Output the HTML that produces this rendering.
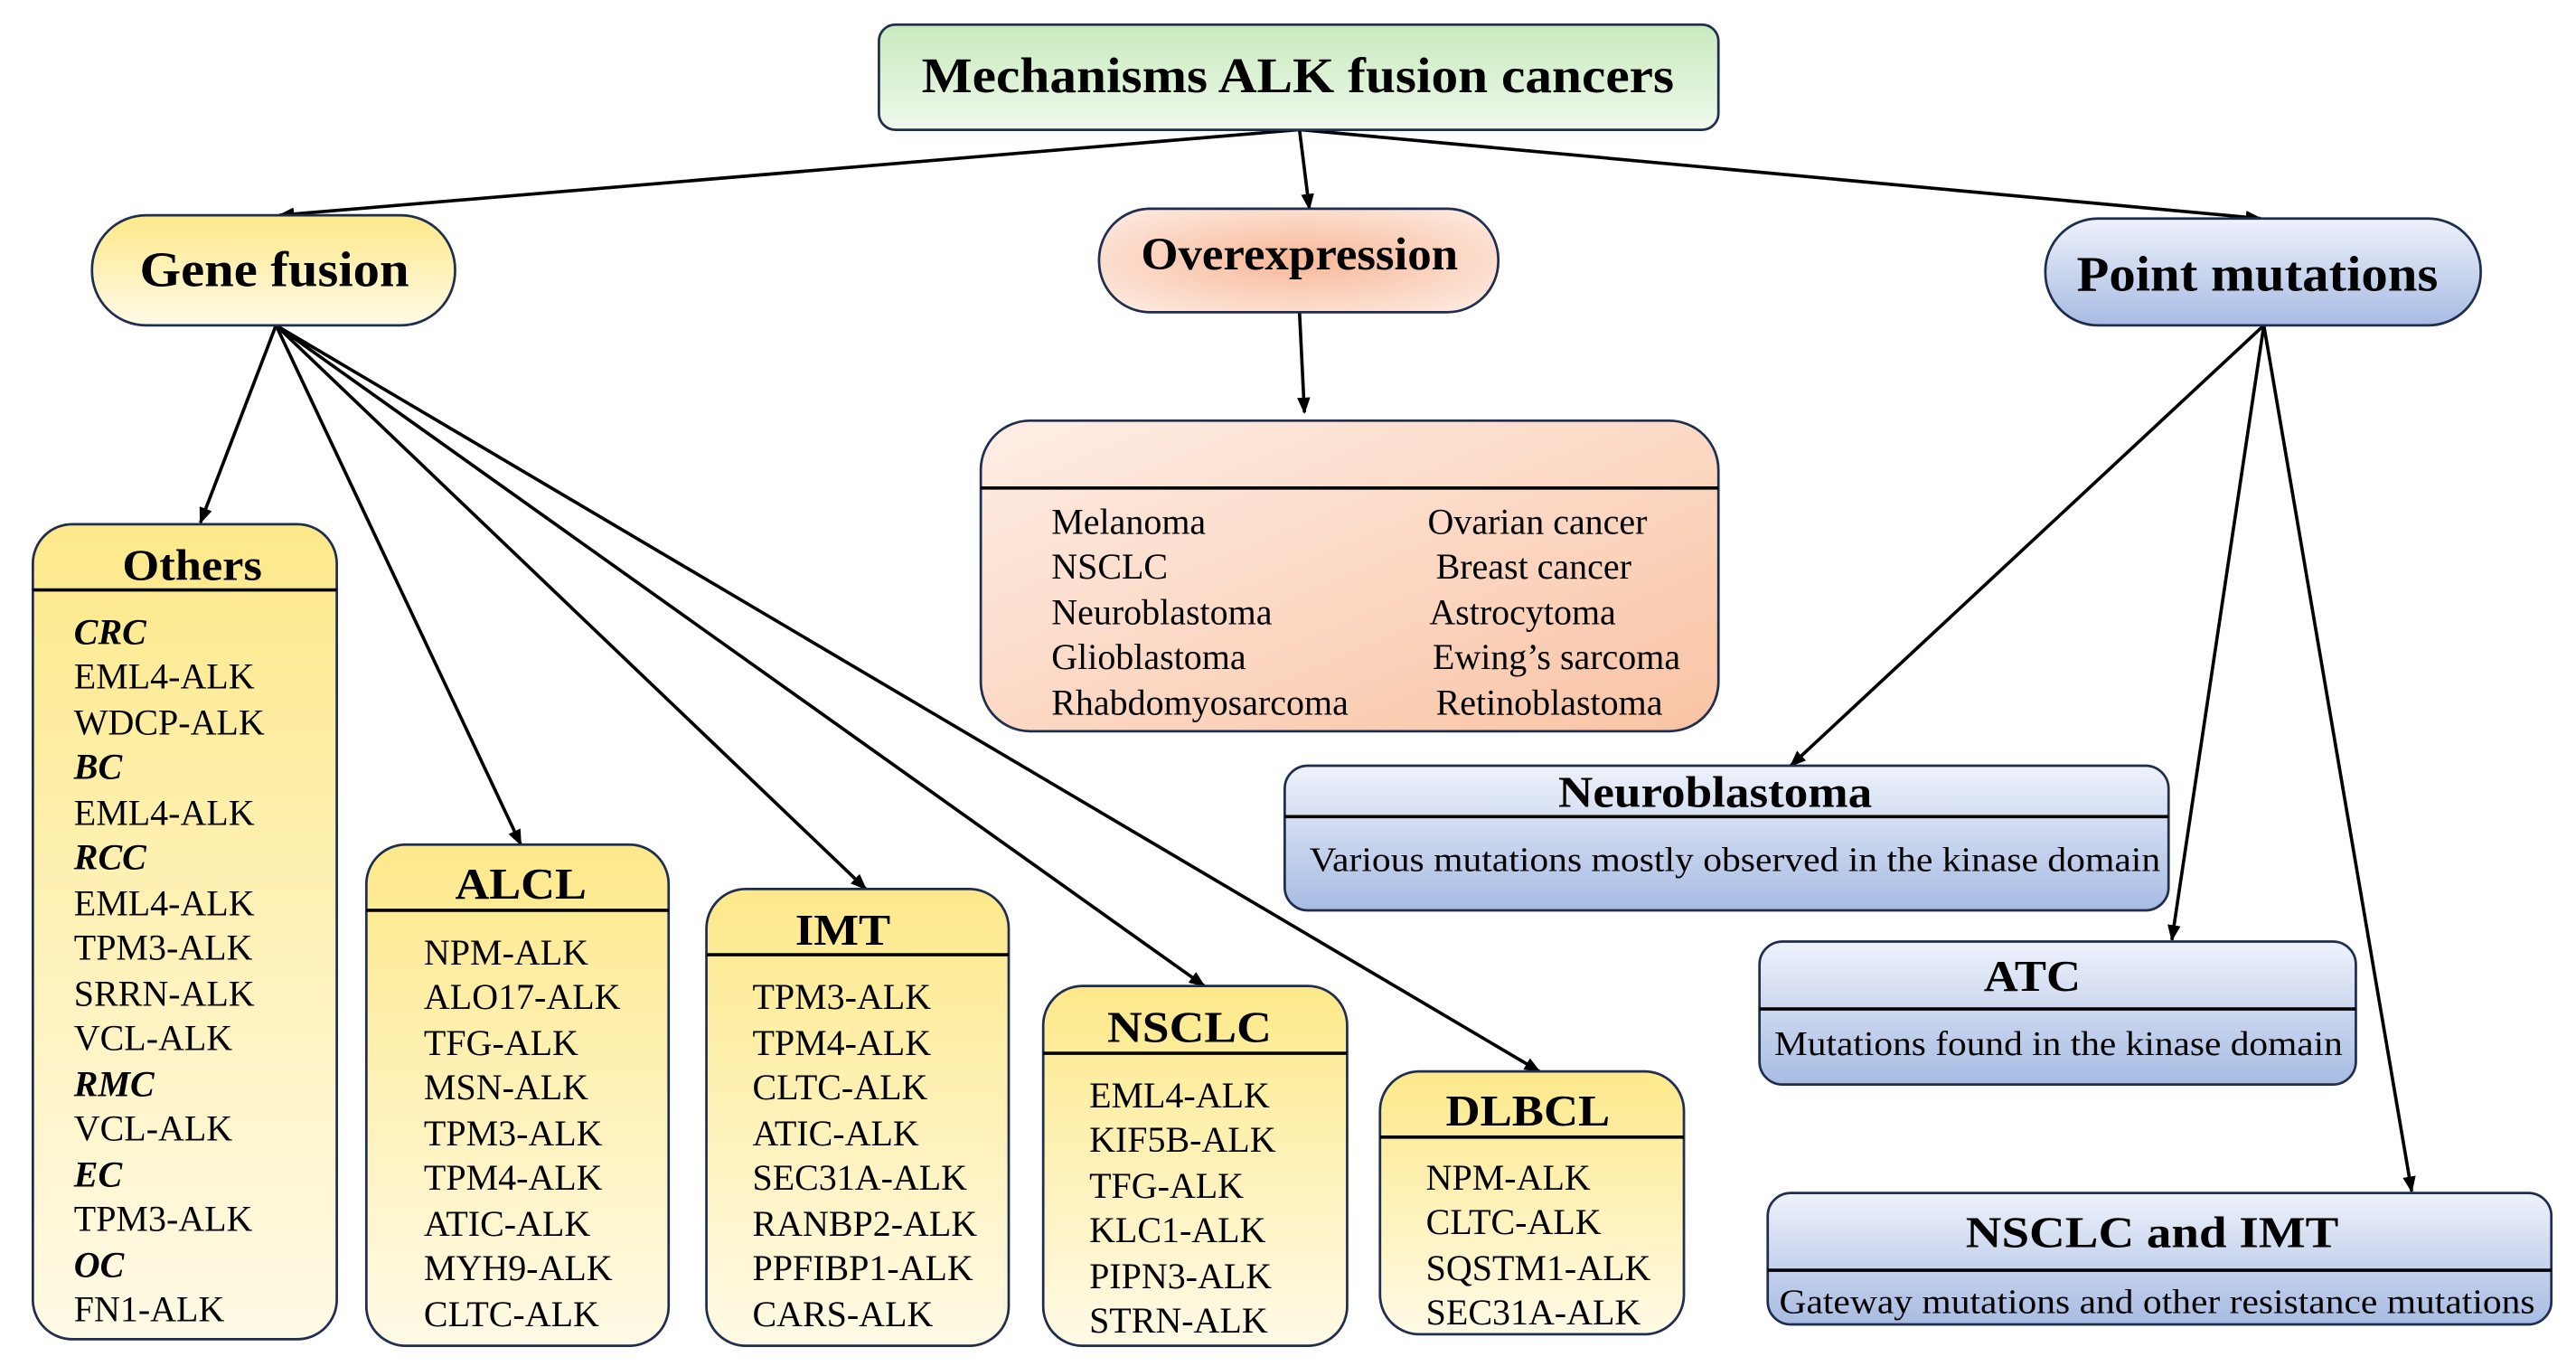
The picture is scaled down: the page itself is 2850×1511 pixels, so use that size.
<!DOCTYPE html>
<html><head><meta charset="utf-8"><style>html,body{margin:0;padding:0;background:#fff}svg{display:block}svg text{font-family:"Liberation Serif","Times New Roman",Times,serif}</style></head><body>
<svg width="2850" height="1511" viewBox="0 0 1568 831.3" preserveAspectRatio="none" xmlns="http://www.w3.org/2000/svg">
<defs>
<linearGradient id="gr" x1="0" y1="0" x2="0" y2="1"><stop offset="0" stop-color="#c8eabd"/><stop offset="1" stop-color="#eff9ec"/></linearGradient>
<linearGradient id="ye" x1="0" y1="0" x2="0" y2="1"><stop offset="0" stop-color="#fde98a"/><stop offset="1" stop-color="#fffae6"/></linearGradient>
<linearGradient id="bl" x1="0" y1="0" x2="0" y2="1"><stop offset="0" stop-color="#eef2fb"/><stop offset="1" stop-color="#a7bbe2"/></linearGradient>
<linearGradient id="pe" x1="0" y1="0" x2="1" y2="1"><stop offset="0" stop-color="#feeee6"/><stop offset="1" stop-color="#f9c3a3"/></linearGradient>
<radialGradient id="pe2" cx="0.5" cy="0.5" r="0.6"><stop offset="0" stop-color="#f8b898"/><stop offset="1" stop-color="#fde6da"/></radialGradient>
<marker id="ah" markerWidth="10" markerHeight="10" refX="9" refY="5" orient="auto" markerUnits="userSpaceOnUse"><path d="M0,1 L10,5 L0,9 z" fill="#000"/></marker>
</defs>
<g stroke="#000" stroke-width="2" fill="none" marker-end="url(#ah)">
<line x1="790" y1="79" x2="170" y2="131"/>
<line x1="791" y1="79" x2="797" y2="127"/>
<line x1="792" y1="79" x2="1376" y2="133"/>
<line x1="791" y1="190" x2="794" y2="251"/>
<line x1="168" y1="198" x2="122" y2="318"/>
<line x1="168" y1="198" x2="317" y2="514"/>
<line x1="168" y1="198" x2="527" y2="541"/>
<line x1="168" y1="198" x2="733" y2="600"/>
<line x1="168" y1="198" x2="937" y2="652"/>
<line x1="1378" y1="198" x2="1090" y2="466"/>
<line x1="1378" y1="198" x2="1322" y2="572"/>
<line x1="1378" y1="198" x2="1468" y2="725"/>
</g>
<g stroke="#1f2d4e" stroke-width="1.5">
<rect x="535" y="15" width="511" height="64" rx="10" fill="url(#gr)"/>
<rect x="56" y="131" width="221" height="67" rx="33" fill="url(#ye)"/>
<rect x="669" y="127" width="243" height="63" rx="31" fill="url(#pe2)"/>
<rect x="1245" y="133" width="265" height="65" rx="32" fill="url(#bl)"/>
<rect x="597" y="256" width="449" height="189" rx="30" fill="url(#pe)"/>
<rect x="20" y="319" width="185" height="496" rx="24" fill="url(#ye)"/>
<rect x="223" y="514" width="184" height="305" rx="24" fill="url(#ye)"/>
<rect x="430" y="541" width="184" height="278" rx="24" fill="url(#ye)"/>
<rect x="635" y="600" width="185" height="219" rx="24" fill="url(#ye)"/>
<rect x="840" y="652" width="185" height="160" rx="24" fill="url(#ye)"/>
<rect x="782" y="466" width="538" height="88" rx="14" fill="url(#bl)"/>
<rect x="1071" y="573" width="363" height="87" rx="14" fill="url(#bl)"/>
<rect x="1076" y="726" width="477" height="80" rx="14" fill="url(#bl)"/>
</g>
<g stroke="#000" stroke-width="2">
<line x1="597" y1="297" x2="1046" y2="297"/>
<line x1="20" y1="359" x2="205" y2="359"/>
<line x1="223" y1="554" x2="407" y2="554"/>
<line x1="430" y1="581" x2="614" y2="581"/>
<line x1="635" y1="641" x2="820" y2="641"/>
<line x1="840" y1="692" x2="1025" y2="692"/>
<line x1="782" y1="497" x2="1320" y2="497"/>
<line x1="1071" y1="614" x2="1434" y2="614"/>
<line x1="1076" y1="773" x2="1553" y2="773"/>
</g>
<g font-weight="bold" text-anchor="middle" fill="#000">
<text x="790" y="56" font-size="30" textLength="458" lengthAdjust="spacingAndGlyphs">Mechanisms ALK fusion cancers</text>
<text x="167" y="174" font-size="30" textLength="164" lengthAdjust="spacingAndGlyphs">Gene fusion</text>
<text x="791" y="164" font-size="28" textLength="193" lengthAdjust="spacingAndGlyphs">Overexpression</text>
<text x="1374" y="177" font-size="30" textLength="220" lengthAdjust="spacingAndGlyphs">Point mutations</text>
<text x="117" y="353" font-size="27" textLength="85" lengthAdjust="spacingAndGlyphs">Others</text>
<text x="317" y="547" font-size="27" textLength="80" lengthAdjust="spacingAndGlyphs">ALCL</text>
<text x="513" y="575" font-size="27" textLength="58" lengthAdjust="spacingAndGlyphs">IMT</text>
<text x="724" y="634" font-size="27" textLength="100" lengthAdjust="spacingAndGlyphs">NSCLC</text>
<text x="930" y="685" font-size="27" textLength="100" lengthAdjust="spacingAndGlyphs">DLBCL</text>
<text x="1044" y="491" font-size="27" textLength="191" lengthAdjust="spacingAndGlyphs">Neuroblastoma</text>
<text x="1237" y="603" font-size="27" textLength="59" lengthAdjust="spacingAndGlyphs">ATC</text>
<text x="1310" y="759" font-size="27" textLength="227" lengthAdjust="spacingAndGlyphs">NSCLC and IMT</text>
</g>
<g font-size="21" text-anchor="middle" fill="#000">
<text x="1056" y="530" textLength="518" lengthAdjust="spacingAndGlyphs">Various mutations mostly observed in the kinase domain</text>
<text x="1253" y="642" textLength="346" lengthAdjust="spacingAndGlyphs">Mutations found in the kinase domain</text>
<text x="1313" y="799" textLength="460" lengthAdjust="spacingAndGlyphs">Gateway mutations and other resistance mutations</text>
</g>
<g font-size="22" fill="#000">
<text x="640" y="325">Melanoma</text><text x="869" y="325">Ovarian cancer</text>
<text x="640" y="352">NSCLC</text><text x="874" y="352">Breast cancer</text>
<text x="640" y="380">Neuroblastoma</text><text x="870" y="380">Astrocytoma</text>
<text x="640" y="407">Glioblastoma</text><text x="872" y="407">Ewing’s sarcoma</text>
<text x="640" y="435">Rhabdomyosarcoma</text><text x="874" y="435">Retinoblastoma</text>
</g>
<g font-size="22" fill="#000">
<text x="45" y="392" font-style="italic" font-weight="bold">CRC</text>
<text x="45" y="419">EML4-ALK</text>
<text x="45" y="447">WDCP-ALK</text>
<text x="45" y="474" font-style="italic" font-weight="bold">BC</text>
<text x="45" y="502">EML4-ALK</text>
<text x="45" y="529" font-style="italic" font-weight="bold">RCC</text>
<text x="45" y="557">EML4-ALK</text>
<text x="45" y="584">TPM3-ALK</text>
<text x="45" y="612">SRRN-ALK</text>
<text x="45" y="639">VCL-ALK</text>
<text x="45" y="667" font-style="italic" font-weight="bold">RMC</text>
<text x="45" y="694">VCL-ALK</text>
<text x="45" y="722" font-style="italic" font-weight="bold">EC</text>
<text x="45" y="749">TPM3-ALK</text>
<text x="45" y="777" font-style="italic" font-weight="bold">OC</text>
<text x="45" y="804">FN1-ALK</text>

<text x="258" y="587">NPM-ALK</text>
<text x="258" y="614">ALO17-ALK</text>
<text x="258" y="642">TFG-ALK</text>
<text x="258" y="669">MSN-ALK</text>
<text x="258" y="697">TPM3-ALK</text>
<text x="258" y="724">TPM4-ALK</text>
<text x="258" y="752">ATIC-ALK</text>
<text x="258" y="779">MYH9-ALK</text>
<text x="258" y="807">CLTC-ALK</text>

<text x="458" y="614">TPM3-ALK</text>
<text x="458" y="642">TPM4-ALK</text>
<text x="458" y="669">CLTC-ALK</text>
<text x="458" y="697">ATIC-ALK</text>
<text x="458" y="724">SEC31A-ALK</text>
<text x="458" y="752">RANBP2-ALK</text>
<text x="458" y="779">PPFIBP1-ALK</text>
<text x="458" y="807">CARS-ALK</text>

<text x="663" y="674">EML4-ALK</text>
<text x="663" y="701">KIF5B-ALK</text>
<text x="663" y="729">TFG-ALK</text>
<text x="663" y="756">KLC1-ALK</text>
<text x="663" y="784">PIPN3-ALK</text>
<text x="663" y="811">STRN-ALK</text>

<text x="868" y="724">NPM-ALK</text>
<text x="868" y="751">CLTC-ALK</text>
<text x="868" y="779">SQSTM1-ALK</text>
<text x="868" y="806">SEC31A-ALK</text>
</g>
</svg>
</body></html>
